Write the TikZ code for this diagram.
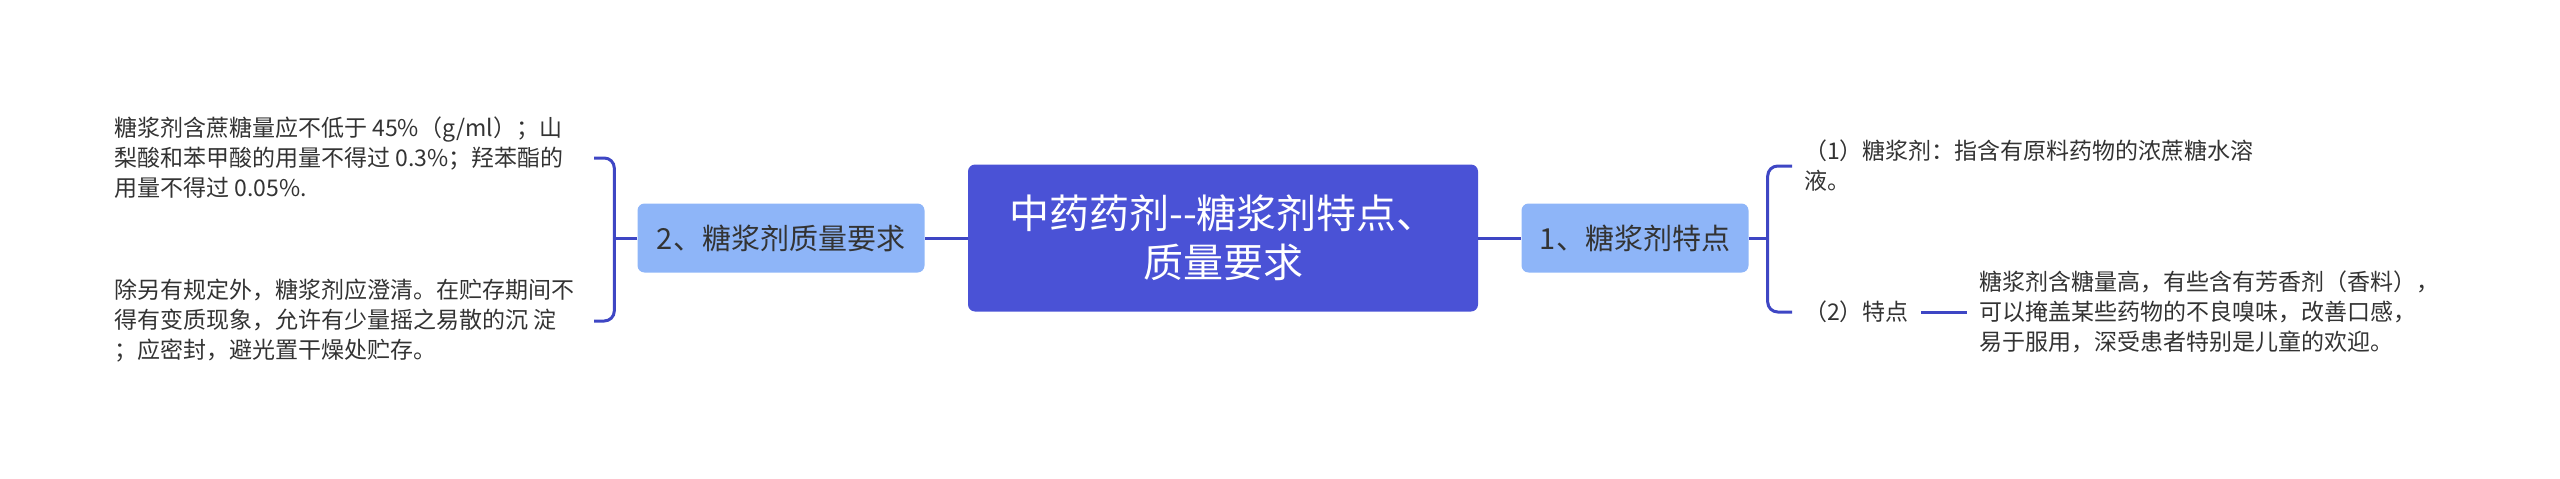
\documentclass[tikz,border=0pt]{standalone}
\usepackage{fontspec}
\newfontfamily\cjk{Noto Sans CJK SC}
\definecolor{rootblue}{RGB}{74,82,214}
\definecolor{subblue}{RGB}{142,181,248}
\definecolor{linkblue}{RGB}{62,70,196}
\definecolor{textgray}{RGB}{51,51,51}

\begin{document}
\begin{tikzpicture}[x=1pt,y=-1pt]
\tikzset{ root/.style={fill=rootblue, rounded corners=7pt, text=white, align=center,
            font=\cjk\fontsize{40}{49}\selectfont, minimum width=510pt, minimum height=147pt, inner sep=0pt},
          sub/.style={fill=subblue, rounded corners=7pt, text=textgray,
            font=\cjk\fontsize{29}{36}\selectfont, minimum height=69pt, inner sep=0pt},
          leaf/.style={text=textgray, font=\cjk\fontsize{23}{30}\selectfont, align=left,
            inner xsep=12pt, inner ysep=0pt, anchor=west},
          link/.style={draw=linkblue, line width=3pt},
          brace/.style={link, rounded corners=10pt} }

\useasboundingbox (0,0) rectangle (2560,479);

\node [root] (R) at (1223,238) {中药药剂--糖浆剂特点、\\质量要求};
\node [sub, minimum width=227pt] (S1) at (1635,238) {1、糖浆剂特点};
\node [sub, minimum width=287pt] (S2) at (781,238) {2、糖浆剂质量要求};

\draw [link] (R.east) -- (S1.west);
\draw [link] (R.west) -- (S2.east);

% right branch
\node [leaf] (P1) at (1792,166) {（1）糖浆剂：指含有原料药物的浓蔗糖水溶\\液。};
\node [leaf] (P2) at (1792,312) {（2）特点};
\node [leaf] (P3) at (1967,312) {糖浆剂含糖量高，有些含有芳香剂（香料），\\可以掩盖某些药物的不良嗅味，改善口感，\\易于服用，深受患者特别是儿童的欢迎。};

\path (S1.east) ++(19,0) coordinate (jr);
\draw [link]  (S1.east) -- (jr);
\draw [brace] (jr) |- (P1.west);
\draw [brace] (jr) |- (P2.west);
\draw [link]  (P2.east) -- (P3.west);

% left branch
\node [leaf] (Q1) at (102,158) {糖浆剂含蔗糖量应不低于 45\%（g/ml）；山\\梨酸和苯甲酸的用量不得过 0.3\%；羟苯酯的\\用量不得过 0.05\%.};
\node [leaf] (Q2) at (102,321) {除另有规定外，糖浆剂应澄清。在贮存期间不\\得有变质现象，允许有少量摇之易散的沉 淀\\；应密封，避光置干燥处贮存。};

\path (S2.west) ++(-23,0) coordinate (jl);
\coordinate (e1) at (594,158);
\coordinate (e2) at (594,321);
\draw [link]  (S2.west) -- (jl);
\draw [brace] (jl) |- (e1);
\draw [brace] (jl) |- (e2);

\end{tikzpicture}
\end{document}
